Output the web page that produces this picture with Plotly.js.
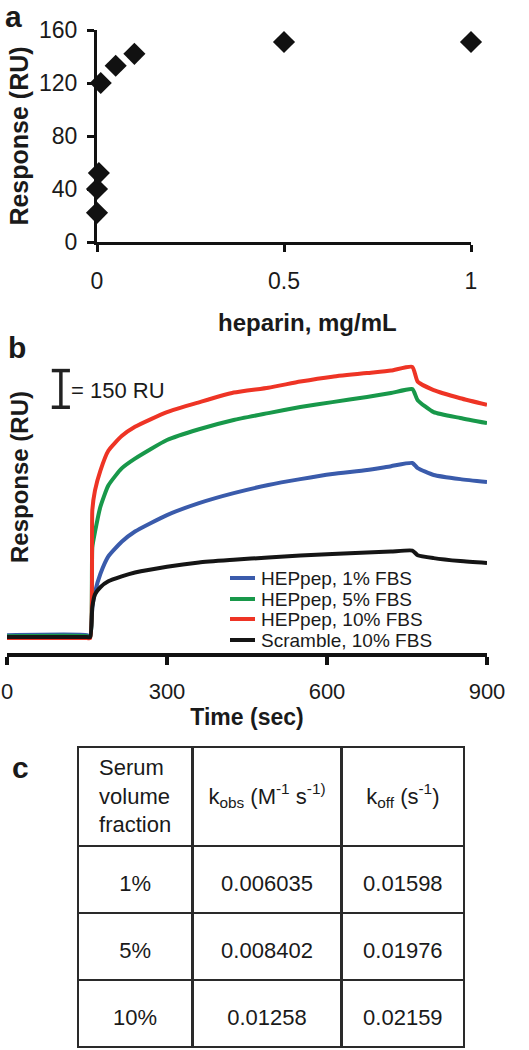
<!DOCTYPE html>
<html>
<head>
<meta charset="utf-8">
<script src="https://cdn.plot.ly/plotly-3.0.1.min.js"></script>
<style>html,body{margin:0;padding:0;background:#fff;}#chart{width:529px;height:1050px;}</style>
</head>
<body>
<div id="chart"></div>
<script>
// ---- Panel a data ----
const heparinConc = [0, 0, 0.005, 0.01, 0.05, 0.1, 0.5, 1];
const responseA   = [22, 40, 52, 120, 133, 142, 151, 151];
const heparinTicks = [0, 0.5, 1];
const responseTicks = [0, 40, 80, 120, 160];

// ---- Panel b data (RU relative to baseline) ----
const timeSec = [0, 150, 156, 160, 165, 175, 190, 215, 240, 300, 360, 425, 490, 550, 610, 675, 720, 760, 770, 800, 850, 900];
const hep1  = [8, 8, 0, 123, 184, 258, 330, 390, 432, 499, 548, 589, 622, 646, 667, 683, 699, 712, 691, 663, 646, 634];
const hep5  = [4, 4, 0, 368, 430, 532, 620, 690, 730, 806, 850, 888, 916, 941, 961, 982, 998, 1014, 969, 920, 896, 875];
const hep10 = [-4, -4, -4, 520, 600, 680, 762, 822, 860, 920, 960, 1000, 1020, 1045, 1065, 1080, 1090, 1105, 1045, 1010, 977, 950];
const scr10 = [0, 0, 0, 123, 175, 204, 228, 248, 264, 288, 305, 316, 326, 334, 340, 346, 350, 354, 335, 323, 311, 303];
const seriesNames = ['HEPpep, 1% FBS', 'HEPpep, 5% FBS', 'HEPpep, 10% FBS', 'Scramble, 10% FBS'];
const seriesColors = ['#3a5bab', '#18984a', '#ee3425', '#151515'];
const timeTicks = [0, 300, 600, 900];
const scaleBarRU = 150;
const scaleBarBase = 940;
const scaleBarT = 101;

// ---- Panel c data ----
const serumFraction = ['1%', '5%', '10%'];
const kObs = ['0.006035', '0.008402', '0.01258'];
const kOff = ['0.01598', '0.01976', '0.02159'];
const tableHeaders = ['Serum<br>volume<br>fraction', 'k<sub>obs</sub> (M<sup>-1</sup> s<sup>-1)</sup>', 'k<sub>off</sub> (s<sup>-1</sup>)'];

const W = 529, H = 1050;
const FONT = 'Arial, Liberation Sans, sans-serif';
const INK = '#1a1a1a';
const NBSP = '\u00a0';
const px = v => v / W;
const py = v => (H - v) / H;

const traces = [];
traces.push({
  type: 'scatter', mode: 'markers', x: heparinConc, y: responseA,
  xaxis: 'x', yaxis: 'y', cliponaxis: false, showlegend: false,
  marker: {symbol: 'diamond', size: 17, color: '#111'}
});
const bSeries = [hep1, hep5, hep10, scr10];
bSeries.forEach((vals, i) => {
  traces.push({
    type: 'scatter', mode: 'lines', x: timeSec, y: vals, name: seriesNames[i],
    xaxis: 'x2', yaxis: 'y2', showlegend: false,
    line: {color: seriesColors[i], width: 4, shape: 'spline', smoothing: 0.5}
  });
});
// vertical centring helpers for the table text (a spacer first line)
const headerText = tableHeaders.map(h => h.indexOf('<br>') >= 0 ? h : NBSP + '<br>' + h);
const cellText = [serumFraction, kObs, kOff].map(col => col.map(v => NBSP + '<br><span style="font-size:22px">' + v + '</span>'));
traces.push({
  type: 'table',
  domain: {x: [px(78), px(464)], y: [py(1049), py(747)]},
  columnwidth: [114, 149, 122],
  header: {
    values: headerText, align: 'center', height: 99,
    line: {color: '#2a2a2a', width: 2.5}, fill: {color: '#fff'},
    font: {family: FONT, size: 22, color: INK}
  },
  cells: {
    values: cellText, align: 'center', height: 67,
    line: {color: '#2a2a2a', width: 2.5}, fill: {color: '#fff'},
    font: {family: FONT, size: 17, color: INK}
  }
});

const shapes = [];
// scale bar
shapes.push({type: 'line', xref: 'x2', yref: 'y2', x0: scaleBarT, x1: scaleBarT, y0: scaleBarBase, y1: scaleBarBase + scaleBarRU, line: {color: '#222', width: 3.5}});
shapes.push({type: 'line', xref: 'x2', yref: 'y2', x0: scaleBarT - 17, x1: scaleBarT + 17, y0: scaleBarBase, y1: scaleBarBase, line: {color: '#222', width: 3.5}});
shapes.push({type: 'line', xref: 'x2', yref: 'y2', x0: scaleBarT - 17, x1: scaleBarT + 17, y0: scaleBarBase + scaleBarRU, y1: scaleBarBase + scaleBarRU, line: {color: '#222', width: 3.5}});

const annotations = [];
const legendY = [578, 599, 619, 640];
seriesNames.forEach((n, i) => {
  shapes.push({type: 'line', xref: 'paper', yref: 'paper', x0: px(230), x1: px(255), y0: py(legendY[i]), y1: py(legendY[i]), line: {color: seriesColors[i], width: 4}});
  annotations.push({xref: 'paper', yref: 'paper', x: px(259), y: py(legendY[i]), xanchor: 'left', yanchor: 'middle', showarrow: false, text: n, font: {family: FONT, size: 19, color: INK}});
});
annotations.push({xref: 'x2', yref: 'y2', x: scaleBarT + 15, y: scaleBarBase + scaleBarRU / 2 - 8, xanchor: 'left', yanchor: 'middle', showarrow: false, text: '= ' + scaleBarRU + ' RU', font: {family: FONT, size: 22, color: INK}});
annotations.push({xref: 'paper', yref: 'paper', x: px(307), y: py(322), xanchor: 'center', yanchor: 'middle', showarrow: false, text: '<b>heparin, mg/mL</b>', font: {family: FONT, size: 24, color: INK}});
annotations.push({xref: 'paper', yref: 'paper', x: px(19), y: py(477), xanchor: 'center', yanchor: 'middle', textangle: -90, showarrow: false, text: '<b>Response (RU)</b>', font: {family: FONT, size: 24, color: INK}});
[['a', 13, 16], ['b', 17, 347], ['c', 20, 767]].forEach(([t, x, y]) => {
  annotations.push({xref: 'paper', yref: 'paper', x: px(x), y: py(y), xanchor: 'center', yanchor: 'middle', showarrow: false, text: '<b>' + t + '</b>', font: {family: FONT, size: 30, color: INK}});
});

const layout = {
  width: W, height: H, margin: {l: 0, r: 0, t: 0, b: 0},
  paper_bgcolor: '#fff', plot_bgcolor: '#fff', showlegend: false,
  font: {family: FONT, color: INK},
  xaxis: {
    domain: [px(97), px(471)], range: [0, 1], anchor: 'y',
    tickvals: heparinTicks, ticktext: heparinTicks.map(String),
    showline: true, linewidth: 3, linecolor: '#111', ticks: 'outside', ticklen: 7, tickwidth: 3, tickcolor: '#111',
    tickfont: {family: FONT, size: 23, color: INK}, ticklabelstandoff: 9,
    showgrid: false, zeroline: false, fixedrange: true
  },
  yaxis: {
    domain: [py(242), py(30)], range: [0, 160], anchor: 'x',
    tickvals: responseTicks,
    showline: true, linewidth: 3, linecolor: '#111', ticks: 'outside', ticklen: 7, tickwidth: 3, tickcolor: '#111',
    tickfont: {family: FONT, size: 23, color: INK}, ticklabelstandoff: 5,
    title: {text: '<b>Response (RU)</b>', font: {family: FONT, size: 25, color: INK}, standoff: 4},
    showgrid: false, zeroline: false, fixedrange: true
  },
  xaxis2: {
    domain: [px(7), px(487)], range: [0, 900], anchor: 'y2',
    tickvals: timeTicks, ticktext: timeTicks.map(String),
    showline: true, linewidth: 4, linecolor: '#111', ticks: 'outside', ticklen: 8, tickwidth: 4, tickcolor: '#111',
    tickfont: {family: FONT, size: 22, color: INK}, ticklabelstandoff: 8,
    title: {text: '<b>Time (sec)</b>', font: {family: FONT, size: 23, color: INK}, standoff: 6},
    showgrid: false, zeroline: false, fixedrange: true
  },
  yaxis2: {
    domain: [py(653), py(340)], range: [-65, 1215], anchor: 'x2',
    showline: false, showticklabels: false, ticks: '', showgrid: false, zeroline: false, fixedrange: true
  },
  shapes: shapes,
  annotations: annotations
};

Plotly.newPlot('chart', traces, layout, {displayModeBar: false, staticPlot: true});
</script>
</body>
</html>
